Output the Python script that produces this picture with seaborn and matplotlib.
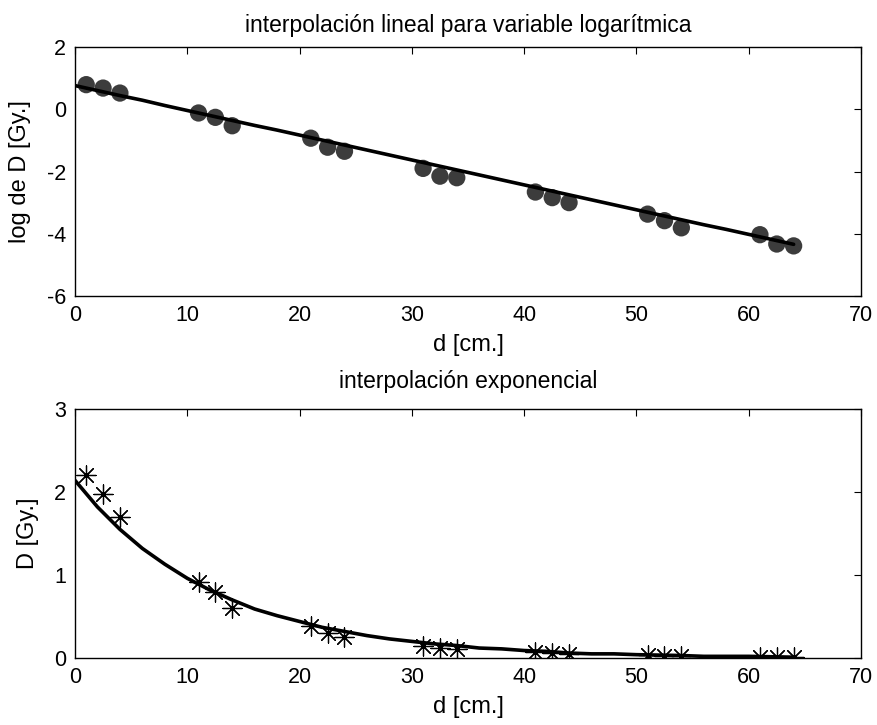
import matplotlib
matplotlib.use("Agg")
import matplotlib.pyplot as plt
import seaborn as sns
import pandas as pd

# ---- data ----
d_cm = [1, 2.5, 4, 11, 12.5, 14, 21, 22.5, 24, 31, 32.5, 34,
        41, 42.5, 44, 51, 52.5, 54, 61, 62.5, 64]
log_D = [0.79, 0.68, 0.52, -0.12, -0.26, -0.53, -0.93, -1.22, -1.35,
         -1.90, -2.15, -2.20, -2.66, -2.84, -3.00, -3.37, -3.58, -3.81,
         -4.03, -4.33, -4.39]
D_gy = [2.20, 1.98, 1.70, 0.91, 0.79, 0.60, 0.39, 0.30, 0.25,
        0.15, 0.12, 0.11, 0.07, 0.06, 0.05, 0.035, 0.03, 0.022,
        0.018, 0.013, 0.012]

fit_x = [0, 2, 4, 6, 8, 10, 12, 14, 16, 18, 20, 22, 24, 26, 28, 30, 32,
         34, 36, 38, 40, 42, 44, 46, 48, 50, 52, 54, 56, 58, 60, 62, 64]
fit_log = [0.76, 0.60, 0.44, 0.29, 0.12, -0.04, -0.20, -0.36, -0.52,
           -0.67, -0.83, -0.99, -1.15, -1.31, -1.47, -1.63, -1.79,
           -1.95, -2.11, -2.27, -2.43, -2.59, -2.75, -2.91, -3.07,
           -3.23, -3.39, -3.55, -3.71, -3.86, -4.02, -4.18, -4.34]
fit_D = [2.14, 1.82, 1.55, 1.32, 1.13, 0.96, 0.82, 0.70, 0.59, 0.51,
         0.44, 0.37, 0.32, 0.27, 0.23, 0.20, 0.17, 0.15, 0.12, 0.11,
         0.09, 0.08, 0.06, 0.05, 0.05, 0.04, 0.035, 0.03, 0.02, 0.02,
         0.02, 0.015, 0.01]

titles = ["interpolación lineal para variable logarítmica", "interpolación exponencial"]
xlabel = "d [cm.]"
ylabels = ["log de D [Gy.]", "D [Gy.]"]
xticks = [0, 10, 20, 30, 40, 50, 60, 70]
yticks_top = [-6, -4, -2, 0, 2]
yticks_bot = [0, 1, 2, 3]

pts = pd.DataFrame({"d": d_cm, "logD": log_D, "D": D_gy})
fit = pd.DataFrame({"d": fit_x, "logD": fit_log, "D": fit_D})

sns.set_theme(style="white")
plt.rcParams["font.family"] = ["Liberation Sans", "DejaVu Sans"]
plt.rcParams["axes.unicode_minus"] = False
FS_TICK = 15.5
FS_LAB = 17
FS_TITLE = 16.5

W, H = 878, 725
fig = plt.figure(figsize=(W / 100, H / 100), dpi=100)
left = 75 / W
width = 786 / W
ax1 = fig.add_axes([left, 1 - 296 / H, width, 249 / H])
ax2 = fig.add_axes([left, 1 - 658 / H, width, 249 / H])

# top panel
sns.scatterplot(data=pts, x="d", y="logD", ax=ax1, s=155, color="#3c3c3c",
                edgecolor="none", linewidth=0, zorder=2)
sns.lineplot(data=fit, x="d", y="logD", ax=ax1, color="black", linewidth=2.6,
             zorder=3)
ax1.set_xlim(0, 70)
ax1.set_ylim(-6, 2)
ax1.set_yticks(yticks_top)
ax1.set_ylabel(ylabels[0])

# bottom panel
sns.lineplot(data=fit, x="d", y="D", ax=ax2, color="black", linewidth=2.6,
             zorder=2)
sns.scatterplot(data=pts, x="d", y="D", ax=ax2, marker=(8, 2, 0), s=190,
                color="black", linewidth=0.9, zorder=3)
ax2.set_xlim(0, 70)
ax2.set_ylim(0, 3)
ax2.set_yticks(yticks_bot)
ax2.set_ylabel(ylabels[1])

for ax, t, tpad in zip([ax1, ax2], titles, [10.5, 15]):
    ax.set_xticks(xticks)
    ax.set_title(t, fontsize=FS_TITLE, pad=tpad, color="black")
    ax.set_xlabel(xlabel, labelpad=6, fontsize=FS_LAB, color="black")
    ax.yaxis.label.set_size(FS_LAB)
    ax.yaxis.label.set_color("black")
    ax.yaxis.labelpad = 11
    for sp in ax.spines.values():
        sp.set_visible(True)
        sp.set_color("black")
        sp.set_linewidth(1.0)
    ax.tick_params(direction="in", length=5, width=0.8, top=True, right=True,
                   labelsize=FS_TICK, colors="black", pad=6.5)

fig.savefig("out.png", dpi=100, facecolor="white")
